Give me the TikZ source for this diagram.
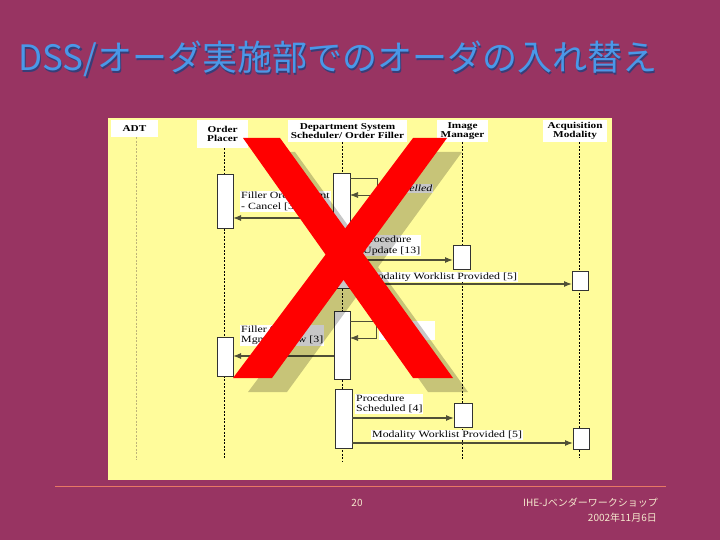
\documentclass[tikz,border=0pt]{standalone}
\usepackage{fontspec}
\usetikzlibrary{arrows.meta}
\newfontfamily\diagfont[FakeStretch=1.25]{Liberation Serif}
\newfontfamily\jpfont{Noto Sans CJK JP}
\definecolor{slidebg}{RGB}{152,52,98}
\definecolor{panelyellow}{RGB}{255,252,155}
\definecolor{titleblue}{RGB}{74,152,232}
\definecolor{titleshade}{RGB}{55,62,120}
\definecolor{footline}{RGB}{232,120,100}
\definecolor{foottext}{RGB}{245,232,205}
\definecolor{msgline}{RGB}{80,80,55}
\definecolor{adtline}{RGB}{190,180,120}
\definecolor{crossred}{RGB}{255,0,0}
\tikzset{
  titletext/.style={anchor=west, inner sep=0pt, text=titleblue, font=\jpfont\fontsize{35}{35}\selectfont},
  foot/.style={inner sep=0pt, text=foottext, font=\jpfont\fontsize{10}{11}\selectfont},
  header/.style={fill=white, inner sep=0pt, align=center, font=\diagfont\bfseries\fontsize{9}{9.5}\selectfont},
  lifeline/.style={line width=0.9pt, dash pattern=on 2pt off 1.5pt},
  actbox/.style={draw=black!80, fill=white, line width=0.8pt, inner sep=0pt, outer sep=0pt, minimum width=16pt},
  msg/.style={draw=msgline, line width=1.2pt, -{Latex[length=8pt,width=6pt]}},
  msglabel/.style={fill=white, anchor=north west, inner sep=1pt, align=left, font=\diagfont\fontsize{9.5}{10.5}\selectfont},
}
\begin{document}
\begin{tikzpicture}[x=1pt,y=-1pt]
  \useasboundingbox (0,0) rectangle (720,540);
  \fill[slidebg] (0,0) rectangle (720,540);

  % title
  \node[titletext, text=titleshade] (titleshadow) at (19.5,60.5) {DSS/オーダ実施部でのオーダの入れ替え};
  \node[titletext] (title) at (18,59) {DSS/オーダ実施部でのオーダの入れ替え};

  \fill[panelyellow] (108,118) rectangle (612,480);
  \draw[footline, line width=1pt] (55,486) -- (666,486);

  % actors
  \node[header, minimum width=47pt, minimum height=17pt] (adt) at (134.5,128.5) {ADT};
  \node[header, minimum width=51pt, minimum height=28pt] (op) at (222.5,134) {Order\\Placer};
  \node[header, minimum width=119pt, minimum height=22pt] (dss) at (347.5,131) {Department System\\Scheduler/ Order Filler};
  \node[header, minimum width=51pt, minimum height=22pt] (im) at (462.5,131) {Image\\Manager};
  \node[header, minimum width=64pt, minimum height=22pt] (acq) at (575,131) {Acquisition\\Modality};

  % lifelines
  \coordinate (adtE) at (136,460);
  \coordinate (opE) at (224,458);
  \coordinate (dssE) at (342,462);
  \coordinate (imE) at (462,460);
  \coordinate (acqE) at (579,458);
  \draw[lifeline, adtline] (adt.south -| adtE) -- (adtE);
  \draw[lifeline] (op.south -| opE) -- (opE);
  \draw[lifeline] (dss.south -| dssE) -- (dssE);
  \draw[lifeline] (im.south -| imE) -- (imE);
  \draw[lifeline] (acq.south -| acqE) -- (acqE);

  % activations
  \node[actbox, minimum height=54pt] (opA) at (225,201) {};
  \node[actbox, minimum width=17pt, minimum height=115pt] (dssA) at (341.5,230.5) {};
  \node[actbox, minimum width=17pt, minimum height=24pt] (imA) at (461.5,257) {};
  \node[actbox, minimum height=19pt] (acqA) at (580,280.5) {};
  \node[actbox, minimum height=68pt] (dssB) at (342,345) {};
  \node[actbox, minimum height=39pt] (opB) at (225,356.5) {};
  \node[actbox, minimum width=17pt, minimum height=59pt] (dssC) at (343.5,418.5) {};
  \node[actbox, minimum width=18pt, minimum height=24pt] (imB) at (463,415) {};
  \node[actbox, minimum height=21pt] (acqB) at (581,438.5) {};

  % messages, first run
  \coordinate (l1a) at (0,178);
  \coordinate (l1b) at (0,195);
  \draw[msg, line width=0.7pt] (dssA.east |- l1a) -- ++(27,0) |- (dssA.east |- l1b);
  \node[msglabel, font=\diagfont\itshape\fontsize{9.5}{10.5}\selectfont] (lbl1) at (383,184) {Cancelled};

  \coordinate (m1) at (0,218);
  \draw[msg] (dssA.west |- m1) -- (opA.east |- m1);
  \node[msglabel] (lbl2) at (240,191) {Filler Order Mgmt\\- Cancel [3]};

  \coordinate (m2) at (0,260);
  \draw[msg] (dssA.east |- m2) -- (imA.west |- m2);
  \node[msglabel] (lbl3) at (362,235) {Procedure\\Update [13]};

  \coordinate (m3) at (0,284);
  \draw[msg] (dssA.east |- m3) -- (acqA.west |- m3);
  \node[msglabel] (lbl4) at (366,271.5) {Modality Worklist Provided [5]};

  % messages, second run
  \coordinate (l2a) at (0,321);
  \coordinate (l2b) at (0,338);
  \draw[msg, line width=0.7pt] (dssB.east |- l2a) -- ++(26,0) |- (dssB.east |- l2b);
  \node[fill=white, anchor=north west, inner sep=0pt, minimum width=56pt, minimum height=19pt] (lbl5) at (379,321) {};

  \coordinate (m4) at (0,356);
  \draw[msg] (dssB.west |- m4) -- (opB.east |- m4);
  \node[msglabel] (lbl6) at (240,324.5) {Filler Order\\Mgmt -- New [3]};

  \coordinate (m5) at (0,418);
  \draw[msg] (dssC.east |- m5) -- (imB.west |- m5);
  \node[msglabel] (lbl7) at (355,393.5) {Procedure\\Scheduled [4]};

  \coordinate (m6) at (0,443);
  \draw[msg] (dssC.east |- m6) -- (acqB.west |- m6);
  \node[msglabel] (lbl8) at (371,429.5) {Modality Worklist Provided [5]};

  % the big cross and its shadow
  \begin{scope}[shift={(15,14)}]
    \fill[black, fill opacity=0.22] (243,138) -- (280,138) -- (453,378) -- (413,378) -- cycle
                                    (413,138) -- (447,138) -- (272,378) -- (233,378) -- cycle;
  \end{scope}
  \fill[crossred] (243,138) -- (280,138) -- (453,378) -- (413,378) -- cycle;
  \fill[crossred] (413,138) -- (447,138) -- (272,378) -- (233,378) -- cycle;

  % footer
  \node[foot] (pageno) at (357,503) {20};
  \node[foot, anchor=east] (vendor) at (658,503) {IHE-Jベンダーワークショップ};
  \node[foot, anchor=east] (date) at (657,518) {2002年11月6日};
\end{tikzpicture}
\end{document}
